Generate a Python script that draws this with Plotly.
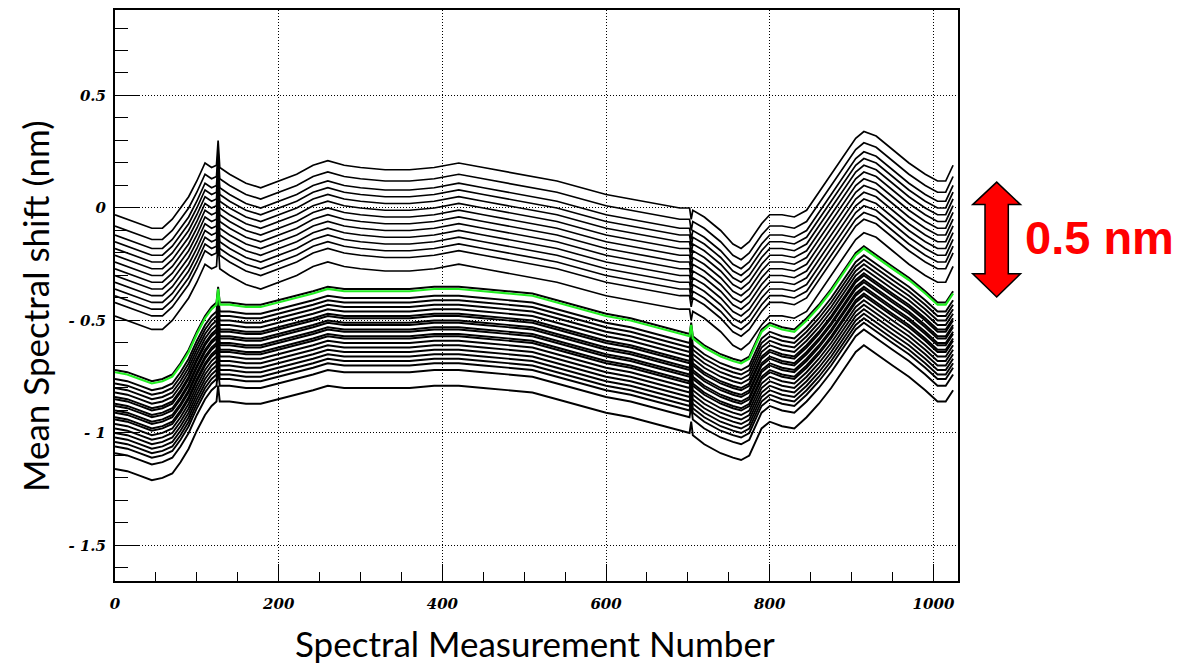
import plotly.graph_objects as go

# ---------------- data ----------------
X_SAMPLES = [0, 15, 30, 45, 58, 70, 80, 90, 100, 110, 118, 124, 126, 128, 140, 160, 178,
             200, 222, 242, 260, 280, 300, 330, 360, 390, 420, 450, 480, 510, 540, 570,
             600, 630, 660, 690, 702, 704, 706, 720, 740, 755, 765, 775, 790, 800, 815,
             830, 845, 860, 875, 890, 905, 915, 930, 950, 970, 990, 1005, 1015, 1024]

# top curve of the upper bundle
UPPER_PROFILE = [-0.03, -0.05, -0.07, -0.09, -0.09, -0.05, 0.00, 0.05, 0.12, 0.20, 0.18, 0.19, 0.30, 0.18, 0.15, 0.11, 0.09,
                 0.12, 0.15, 0.19, 0.21, 0.19, 0.18, 0.17, 0.17, 0.18, 0.20, 0.18, 0.16, 0.14, 0.12, 0.09,
                 0.06, 0.04, 0.02, 0.00, 0.00, -0.05, -0.01, -0.04, -0.10, -0.16, -0.18, -0.15, -0.07, -0.03, -0.03,
                 -0.04, -0.01, 0.07, 0.15, 0.23, 0.31, 0.34, 0.32, 0.26, 0.20, 0.15, 0.12, 0.12, 0.19]

# highlighted (green) curve, also the reference shape of the lower bundle
GREEN_PROFILE = [-0.73, -0.74, -0.76, -0.78, -0.77, -0.75, -0.70, -0.64, -0.56, -0.49, -0.45, -0.43, -0.36, -0.43, -0.43, -0.44, -0.44,
                 -0.42, -0.40, -0.38, -0.36, -0.37, -0.37, -0.37, -0.37, -0.36, -0.36, -0.37, -0.38, -0.39, -0.42, -0.45,
                 -0.48, -0.50, -0.53, -0.56, -0.57, -0.52, -0.58, -0.62, -0.66, -0.68, -0.69, -0.67, -0.55, -0.52, -0.54,
                 -0.55, -0.50, -0.44, -0.37, -0.29, -0.21, -0.18, -0.22, -0.27, -0.32, -0.38, -0.43, -0.43, -0.38]

# vertical shift of each black curve from its bundle profile (nm)
UPPER_OFFSETS = [0.00, -0.05, -0.09, -0.12, -0.15, -0.18, -0.21, -0.24, -0.27, -0.30, -0.33, -0.36, -0.39, -0.45]
LOWER_OFFSETS = [0.01, -0.03, -0.05, -0.07, -0.09, -0.11, -0.12, -0.14, -0.15, -0.17, -0.18, -0.20, -0.21,
                 -0.23, -0.25, -0.27, -0.29, -0.31, -0.33, -0.36, -0.43]

X_TICKS = [0, 200, 400, 600, 800, 1000]
X_TICK_TEXT = ["0", "200", "400", "600", "800", "1000"]
Y_TICKS = [0.5, 0, -0.5, -1, -1.5]
Y_TICK_TEXT = ["0.5", "0", "- 0.5", "- 1", "- 1.5"]

# ---------------- figure ----------------
W, H = 1184, 664
ML, MR, MT, MB = 115, 226, 8, 83
PW, PH = W - ML - MR, H - MT - MB


def px(xp):
    return (xp - ML) / PW


def py(yp):
    return (H - MB - yp) / PH


fig = go.Figure()

for off in UPPER_OFFSETS:
    fig.add_trace(go.Scatter(x=X_SAMPLES, y=[v + off for v in UPPER_PROFILE], mode="lines",
                             line=dict(color="black", width=1.7), showlegend=False, hoverinfo="skip"))
for off in LOWER_OFFSETS:
    fig.add_trace(go.Scatter(x=X_SAMPLES, y=[v + off for v in GREEN_PROFILE], mode="lines",
                             line=dict(color="black", width=1.9), showlegend=False, hoverinfo="skip"))
fig.add_trace(go.Scatter(x=X_SAMPLES, y=GREEN_PROFILE, mode="lines",
                         line=dict(color="#22ee22", width=2.2), showlegend=False, hoverinfo="skip"))

tickfont = dict(family="DejaVu Serif", size=15, color="black", style="italic", weight="bold")

fig.update_layout(
    width=W, height=H,
    margin=dict(l=ML, r=MR, t=MT, b=MB),
    paper_bgcolor="white", plot_bgcolor="white",
    xaxis=dict(range=[0, 1030], showline=True, linecolor="black", linewidth=2, mirror=True,
               ticks="inside", ticklen=17, tickwidth=1, tickcolor="black",
               tickvals=X_TICKS, ticktext=X_TICK_TEXT, tickfont=tickfont,
               showgrid=True, gridcolor="black", gridwidth=1, griddash="1px,2px", zeroline=False,
               minor=dict(ticks="inside", ticklen=9, dtick=50, tick0=0, tickcolor="black", showgrid=False),
               ticklabelstandoff=8),
    yaxis=dict(range=[-1.658, 0.88], showline=True, linecolor="black", linewidth=2, mirror=True,
               ticks="inside", ticklen=24, tickwidth=1, tickcolor="black",
               tickvals=Y_TICKS, ticktext=Y_TICK_TEXT, tickfont=tickfont,
               showgrid=True, gridcolor="black", gridwidth=1, griddash="1px,2px", zeroline=False,
               minor=dict(ticks="inside", ticklen=13, dtick=0.1, tick0=0, tickcolor="black", showgrid=False),
               ticklabelstandoff=4),
)

fig.add_annotation(text="Spectral Measurement Number", xref="paper", yref="paper",
                   x=px(535), y=py(643), xanchor="center", yanchor="middle", showarrow=False,
                   font=dict(family="Lato", size=35, color="black"))
fig.add_annotation(text="Mean Spectral shift (nm)", xref="paper", yref="paper",
                   x=px(35), y=py(306), xanchor="center", yanchor="middle", showarrow=False,
                   textangle=-90, font=dict(family="Lato", size=35, color="black"))
fig.add_annotation(text="<b>0.5 nm</b>", xref="paper", yref="paper",
                   x=px(1099), y=py(236), xanchor="center", yanchor="middle", showarrow=False,
                   font=dict(family="Liberation Sans", size=47, color="#ff0000"))

# red double-headed arrow (outline shape)
pts = [(996.7, 180.7), (1020.5, 203.3), (1008.3, 203.3), (1008.3, 272.7), (1020.5, 272.7),
       (996.7, 296.0), (972.7, 272.7), (985.0, 272.7), (985.0, 203.3), (972.7, 203.3)]
path = "M " + " L ".join(f"{px(a):.5f},{py(b):.5f}" for a, b in pts) + " Z"
fig.add_shape(type="path", path=path, xref="paper", yref="paper",
              fillcolor="#ff0000", line=dict(color="black", width=1.5), layer="above")

fig.write_html("out.html")
